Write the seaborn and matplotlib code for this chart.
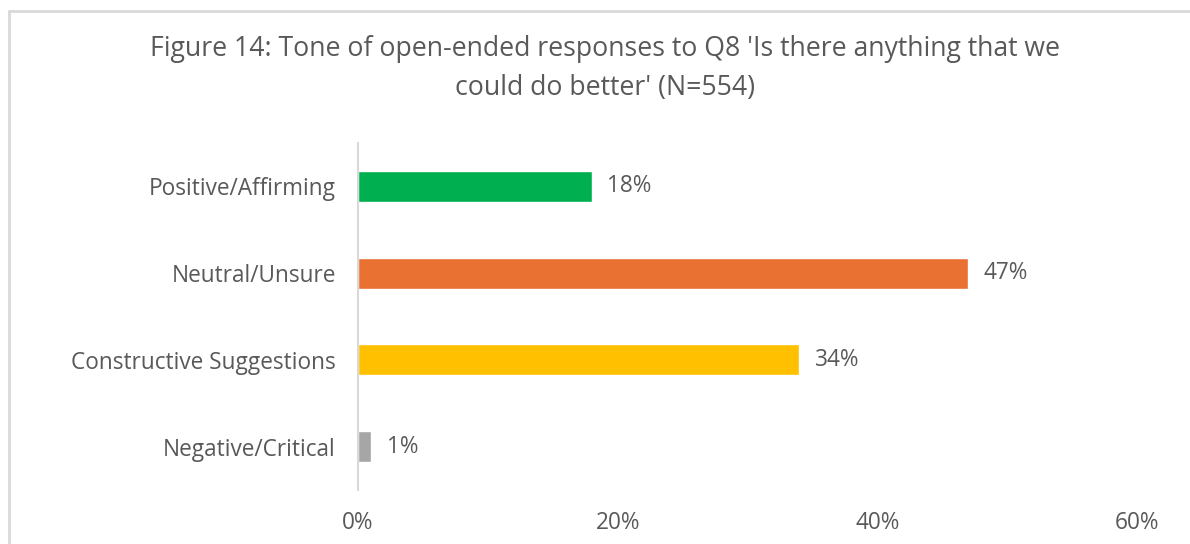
import matplotlib
matplotlib.use("Agg")
import matplotlib.pyplot as plt
from matplotlib.lines import Line2D
from matplotlib.ticker import FuncFormatter
import seaborn as sns
import pandas as pd

# Response tone categories and their shares (%)
categories = ["Positive/Affirming", "Neutral/Unsure", "Constructive Suggestions", "Negative/Critical"]
shares = [18, 47, 34, 1]
bar_colors = ["#00B050", "#E97132", "#FFC000", "#A6A6A6"]
x_ticks = [0, 20, 40, 60]
title = "Figure 14: Tone of open-ended responses to Q8 'Is there anything that we\ncould do better' (N=554)"

sns.set_theme(style="white")
plt.rcParams["font.family"] = ["Open Sans", "DejaVu Sans"]

text_color = "#595959"
label_size = 16.3
df = pd.DataFrame({"category": categories, "share": shares})

fig = plt.figure(figsize=(11.9, 5.44), dpi=100)
ax = fig.add_axes([0.3008, 0.0993, 0.6547, 0.6378])

sns.barplot(data=df, y="category", x="share", hue="category",
            palette=dict(zip(categories, bar_colors)), order=categories,
            width=0.36, legend=False, ax=ax, saturation=1)

ax.set_xlim(0, 60)
ax.set_ylim(len(categories) - 0.5, -0.5)
ax.set_xticks(x_ticks)
ax.xaxis.set_major_formatter(FuncFormatter(lambda v, _: f"{v:.0f}%"))
ax.set_xlabel("")
ax.set_ylabel("")
ax.tick_params(axis="x", length=0, pad=15, labelsize=label_size, labelcolor=text_color)
ax.tick_params(axis="y", length=0, pad=16, labelsize=label_size, labelcolor=text_color)

for side in ["top", "right", "bottom"]:
    ax.spines[side].set_visible(False)
ax.spines["left"].set_color("#D9D9D9")
ax.spines["left"].set_linewidth(1.5)

# Value labels next to each bar
for i, v in enumerate(shares):
    ax.text(v + 1.2, i, f"{v}%", va="center", ha="left", fontsize=label_size, color=text_color)

fig.text(0.508, 0.874, title, ha="center", va="center", fontsize=19.2,
         color=text_color, linespacing=1.5)

# Chart frame (left and top edges)
fig.add_artist(Line2D([0.0075, 0.0075], [0.0, 0.979], transform=fig.transFigure,
                      color="#D9D9D9", linewidth=2))
fig.add_artist(Line2D([0.0075, 1.0], [0.979, 0.979], transform=fig.transFigure,
                      color="#D9D9D9", linewidth=2))

fig.savefig("out.png", dpi=100)
